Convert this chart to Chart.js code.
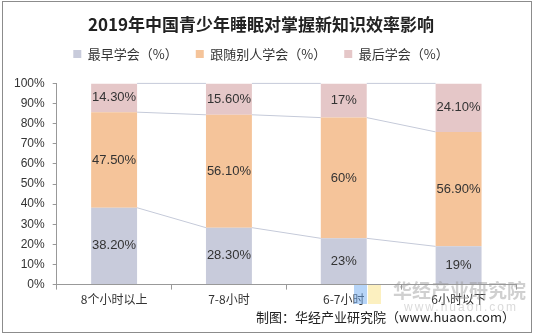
<!DOCTYPE html>
<html>
<head>
<meta charset="utf-8">
<script src="https://cdn.jsdelivr.net/npm/chart.js@4/dist/chart.umd.min.js"></script>
<style>
  body { margin: 0; background: #fff; }
  #wrap { position: relative; width: 534px; height: 336px; }
  #frame { position: absolute; left: 2px; top: 1px; width: 528px; height: 330px; border: 1px solid #8c8c8c; pointer-events: none; }
  #source { position: absolute; right: 19px; top: 307px; font: 13px "Noto Sans CJK SC", sans-serif; color: #222; }
  #wm1 { position: absolute; left: 393px; top: 276px; font: bold 19px "Noto Sans CJK SC", sans-serif; color: rgba(150,150,150,0.45); }
  #wm2 { position: absolute; left: 404px; top: 300px; font: 12px "Liberation Sans", sans-serif; color: rgba(150,150,150,0.35); letter-spacing: 2px; }
  #logo1 { position: absolute; left: 354px; top: 285px; width: 13px; height: 19px; background: rgba(110,170,240,0.5); }
  #logo2 { position: absolute; left: 368px; top: 285px; width: 13px; height: 19px; background: rgba(250,225,130,0.5); }
</style>
</head>
<body>
<div id="wrap">
  <canvas id="chart" width="534" height="336"></canvas>
  <div id="logo1"></div><div id="logo2"></div>
  <div id="wm1">华经产业研究院</div>
  <div id="wm2">www.huaon.com</div>
  <div id="source">制图：华经产业研究院（www.huaon.com）</div>
  <div id="frame"></div>
</div>
<script>
const categories = ['8个小时以上', '7-8小时', '6-7小时', '6小时以下'];
const earliest = [38.2, 28.3, 23, 19];
const follow = [47.5, 56.1, 60, 56.9];
const latest = [14.3, 15.6, 17, 24.1];
const yTicks = [0, 10, 20, 30, 40, 50, 60, 70, 80, 90, 100];

const fmt = (v) => Number.isInteger(v) ? v + '%' : v.toFixed(2) + '%';

// value labels inside each segment
const valueLabels = {
    id: 'valueLabels',
    afterDatasetsDraw(chart) {
        const ctx = chart.ctx;
        ctx.save();
        ctx.font = '13px "Liberation Sans", sans-serif';
        ctx.fillStyle = '#333';
        ctx.textAlign = 'center';
        ctx.textBaseline = 'middle';
        chart.data.datasets.forEach((ds, i) => {
            chart.getDatasetMeta(i).data.forEach((bar, j) => {
                const y = (bar.y + bar.base) / 2;
                ctx.fillText(fmt(ds.data[j]), bar.x, y);
            });
        });
        ctx.restore();
    }
};

// series lines joining the segment tops of neighbouring bars
const seriesLines = {
    id: 'seriesLines',
    beforeDatasetsDraw(chart) {
        const ctx = chart.ctx;
        ctx.save();
        ctx.strokeStyle = '#c5cad9';
        ctx.lineWidth = 1;
        chart.data.datasets.forEach((ds, i) => {
            const bars = chart.getDatasetMeta(i).data;
            for (let j = 0; j < bars.length - 1; j++) {
                const a = bars[j], b = bars[j + 1];
                ctx.beginPath();
                ctx.moveTo(a.x + a.width / 2, a.y);
                ctx.lineTo(b.x - b.width / 2, b.y);
                ctx.stroke();
            }
        });
        ctx.restore();
    }
};

// a bit more room under the legend
const legendGap = {
    id: 'legendGap',
    beforeInit(chart) {
        const lg = chart.legend;
        if (!lg) return;
        const fit = lg.fit.bind(lg);
        lg.fit = function () { fit(); this.height += 13; };
    }
};

new Chart(document.getElementById('chart'), {
    type: 'bar',
    data: {
        labels: categories,
        datasets: [
            { label: '最早学会（%）', data: earliest, backgroundColor: '#c8cbdb' },
            { label: '跟随别人学会（%）', data: follow, backgroundColor: '#f5c49a' },
            { label: '最后学会（%）', data: latest, backgroundColor: '#e5c7c8' },
        ],
    },
    options: {
        responsive: false,
        animation: false,
        layout: { padding: { left: 6, right: 18, top: 8, bottom: 26 } },
        datasets: { bar: { categoryPercentage: 1, barPercentage: 0.4 } },
        plugins: {
            title: {
                display: true,
                text: '2019年中国青少年睡眠对掌握新知识效率影响',
                font: { family: '"Noto Sans CJK SC", sans-serif', size: 17, weight: 'bold' },
                color: '#222',
                padding: { top: 6, bottom: -5 },
            },
            legend: {
                labels: {
                    boxWidth: 8,
                    boxHeight: 8,
                    padding: 18,
                    color: '#333',
                    font: { family: '"Noto Sans CJK SC", sans-serif', size: 13 },
                },
            },
            tooltip: { enabled: false },
        },
        scales: {
            x: {
                stacked: true,
                grid: { drawOnChartArea: false, tickLength: 5, color: '#999' },
                border: { color: '#999' },
                ticks: { color: '#333', font: { family: '"Noto Sans CJK SC", sans-serif', size: 12 } },
            },
            y: {
                stacked: true,
                min: 0,
                max: 100,
                afterBuildTicks(axis) { axis.ticks = yTicks.map((v) => ({ value: v })); },
                grid: { drawOnChartArea: false, tickLength: 4, color: '#999' },
                border: { color: '#999' },
                ticks: {
                    color: '#333',
                    padding: 8,
                    font: { family: '"Liberation Sans", sans-serif', size: 12 },
                    callback: (v) => v + '%',
                },
            },
        },
    },
    plugins: [seriesLines, valueLabels, legendGap],
});
</script>
</body>
</html>
